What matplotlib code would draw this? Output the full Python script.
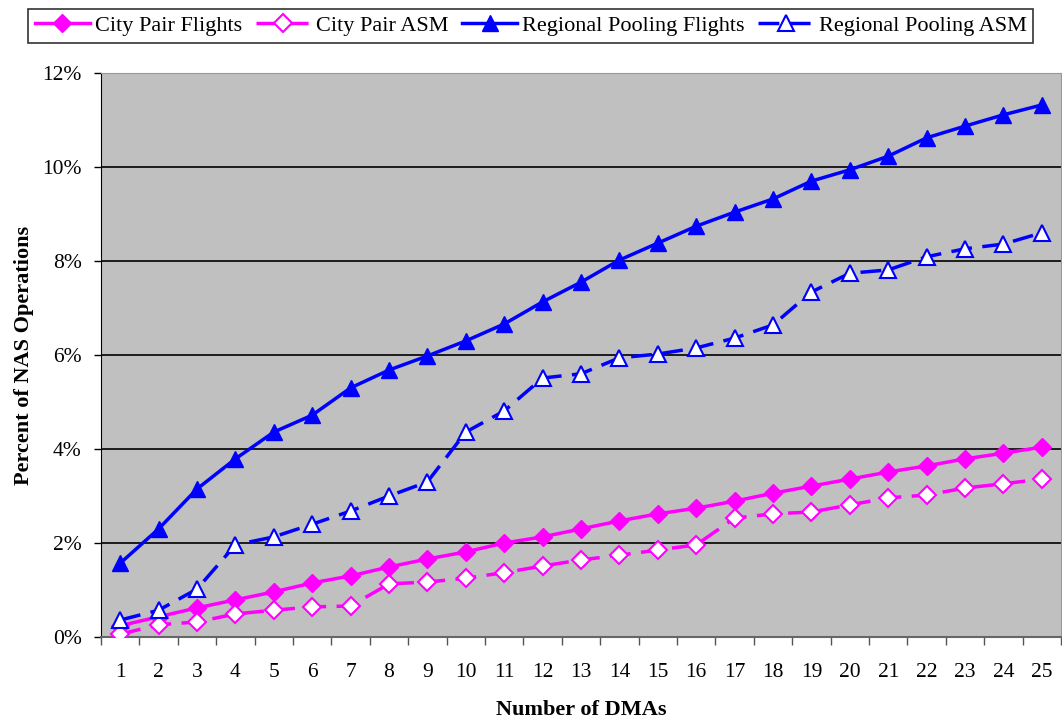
import matplotlib.pyplot as plt
import numpy as np
from matplotlib.ticker import FixedLocator, PercentFormatter

plt.rcParams["font.family"] = ["Liberation Serif", "DejaVu Serif"]

# Number of DMAs (categories)
dmas = list(range(1, 26))

# Percent of NAS operations
city_pair_flights = [0.24, 0.43, 0.62, 0.79, 0.96, 1.15, 1.30, 1.49, 1.66, 1.81,
                     2.00, 2.13, 2.30, 2.47, 2.62, 2.74, 2.89, 3.06, 3.21, 3.36,
                     3.51, 3.64, 3.79, 3.91, 4.04]
city_pair_asm = [0.06, 0.26, 0.32, 0.49, 0.57, 0.64, 0.66, 1.13, 1.17, 1.25,
                 1.37, 1.51, 1.64, 1.74, 1.85, 1.96, 2.53, 2.62, 2.66, 2.81,
                 2.96, 3.02, 3.17, 3.26, 3.36]
regional_flights = [1.57, 2.30, 3.15, 3.79, 4.36, 4.72, 5.30, 5.68, 5.98, 6.30,
                    6.66, 7.13, 7.55, 8.02, 8.38, 8.74, 9.04, 9.32, 9.70, 9.94,
                    10.23, 10.62, 10.87, 11.11, 11.32]
regional_asm = [0.36, 0.57, 1.02, 1.96, 2.13, 2.40, 2.68, 3.00, 3.30, 4.36,
                4.81, 5.51, 5.60, 5.94, 6.02, 6.15, 6.36, 6.64, 7.34, 7.74,
                7.81, 8.09, 8.26, 8.36, 8.60]

fig = plt.figure(figsize=(10.62, 7.23), dpi=100)
ax = fig.add_axes([101 / 1062, 1 - 637 / 723, 960 / 1062, (637 - 73) / 723])
ax.set_facecolor("#C0C0C0")

magenta = "#FF00FF"
blue = "#0000FF"
dash = (0, (6, 3))

ax.plot(dmas, city_pair_flights, color=magenta, lw=2.5, marker="D", ms=9,
        mfc=magenta, mec=magenta, label="City Pair Flights", zorder=3)
ax.plot(dmas, city_pair_asm, color=magenta, lw=2.5, ls=dash, marker="D", ms=9,
        mfc="white", mec=magenta, mew=1.5, label="City Pair ASM", zorder=3)
ax.plot(dmas, regional_flights, color=blue, lw=2.5, marker="^", ms=12,
        mfc=blue, mec=blue, label="Regional Pooling Flights", zorder=3)
ax.plot(dmas, regional_asm, color=blue, lw=2.5, ls=dash, marker="^", ms=12,
        mfc="white", mec=blue, mew=1.5, label="Regional Pooling ASM", zorder=3)

ax.set_xlim(0.5, 25.5)
ax.set_ylim(0, 12)
ax.set_xticks(dmas)
ax.xaxis.set_minor_locator(FixedLocator(np.arange(0.5, 26, 1)))
ax.tick_params(axis="x", which="major", length=0, pad=19, labelsize=15.5)
ax.tick_params(axis="x", which="minor", length=6, width=1, color="#555555")
ax.set_yticks(np.arange(0, 13, 2))
ax.yaxis.set_major_formatter(PercentFormatter(decimals=0))
ax.tick_params(axis="y", length=5, width=1, labelsize=15.5, pad=9)
ax.grid(axis="y", color="black", lw=1.2, zorder=1)
ax.set_axisbelow(True)

for side in ["top", "right"]:
    ax.spines[side].set_color("#999999")
ax.spines["left"].set_color("black")
ax.spines["bottom"].set_color("#666666")
ax.spines["bottom"].set_linewidth(1.5)

ax.set_xlabel("Number of DMAs", fontsize=16, fontweight="bold", labelpad=13)
ax.set_ylabel("Percent of NAS Operations", fontsize=16, fontweight="bold", labelpad=6)

leg = fig.legend(loc="upper left", bbox_to_anchor=(28 / 1062, 1 - 9 / 723), ncol=4,
                 fontsize=16, frameon=True, fancybox=False, edgecolor="black",
                 handlelength=2.5, handletextpad=0.22, columnspacing=0.6,
                 borderpad=0.3, borderaxespad=0)
leg.get_frame().set_linewidth(1.2)

fig.savefig("out.png", dpi=100)
